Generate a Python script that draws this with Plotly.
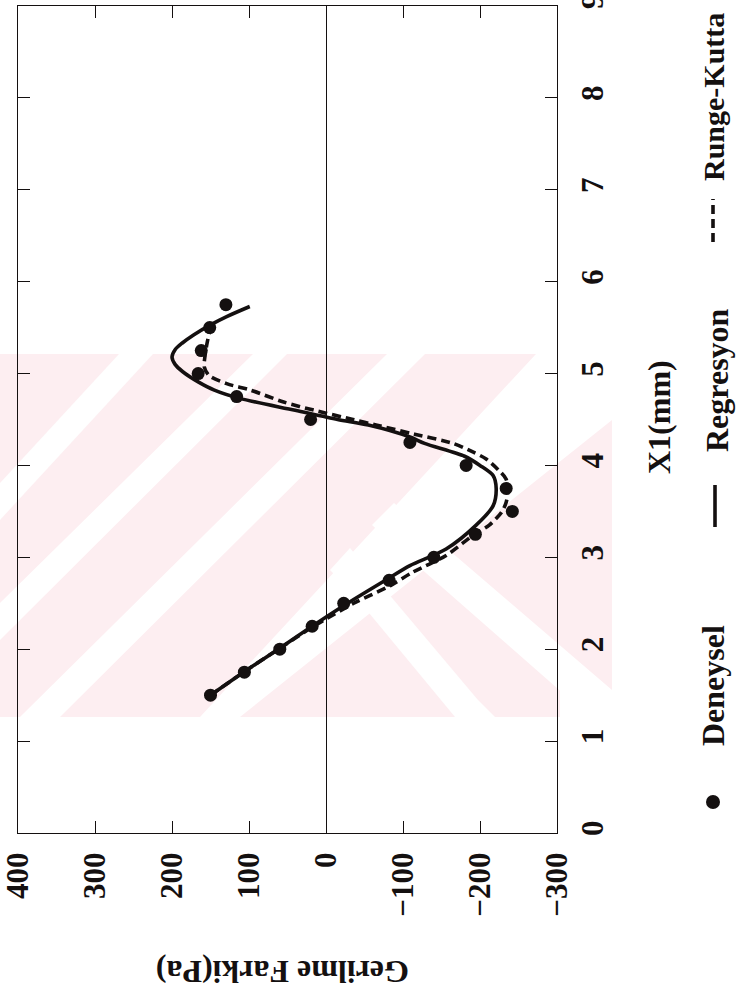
import plotly.graph_objects as go

# Measured stress difference (Deneysel) against X1 position
x1_deneysel = [1.5, 1.75, 2.0, 2.25, 2.5, 2.75, 3.0, 3.25, 3.5, 3.75,
               4.0, 4.25, 4.5, 4.75, 5.0, 5.25, 5.5, 5.75]
gerilme_deneysel = [150, 106, 60, 18, -23, -82, -140, -194, -242, -234,
                    -182, -109, 20, 116, 166, 162, 151, 130]

# Regression curve
x1_regresyon = [1.5, 1.75, 2.0, 2.25, 2.5, 2.76, 2.91, 3.09, 3.35, 3.56,
                3.75, 3.89, 4.0, 4.1, 4.24, 4.31, 4.44, 4.5, 4.6, 4.73,
                4.82, 4.91, 5.02, 5.1, 5.18, 5.26, 5.33, 5.42, 5.53, 5.62, 5.73]
gerilme_regresyon = [150, 107, 62, 18, -28, -79, -109, -156, -195, -217,
                     -221, -217, -200, -180, -128, -109, -55, -15, 40, 112,
                     145, 166, 186, 196, 200, 196, 187, 172, 150, 129, 99]

# Runge-Kutta solution
x1_runge = [1.5, 1.75, 2.0, 2.25, 2.5, 2.69, 2.84, 3.02, 3.24, 3.35, 3.49,
            3.6, 3.71, 3.85, 3.95, 4.07, 4.15, 4.24, 4.34, 4.44, 4.5, 4.6,
            4.69, 4.82, 4.89, 4.98, 5.07, 5.2, 5.35, 5.49]
gerilme_runge = [150, 107, 62, 16, -36, -83, -113, -156, -191, -212, -228,
                 -234, -236, -234, -224, -208, -190, -165, -115, -65, -35, 15,
                 55, 98, 129, 152, 158, 157, 154, 150]

gerilme_ticks = [400, 300, 200, 100, 0, -100, -200, -300]
x1_ticks = list(range(0, 10))

W, H = 750, 996
L, R, T, B = 18, 557, 6, 833


def px(xp):
    return (xp - L) / (R - L)


def py(yp):
    return (B - yp) / (B - T)


FONT = "Liberation Serif"
PINK = "#fdeef1"
INK = "#141010"

fig = go.Figure()

fig.add_trace(go.Scatter(
    x=gerilme_runge, y=x1_runge, mode="lines", name="Runge-Kutta",
    line=dict(color=INK, width=3.6, dash="9px,5px", shape="spline", smoothing=0.8),
))
fig.add_trace(go.Scatter(
    x=gerilme_regresyon, y=x1_regresyon, mode="lines", name="Regresyon",
    line=dict(color=INK, width=3.6, shape="spline", smoothing=0.8),
))
fig.add_trace(go.Scatter(
    x=gerilme_deneysel, y=x1_deneysel, mode="markers", name="Deneysel",
    marker=dict(color=INK, size=13),
))

shapes = []
# faint background emblem: pink field with white diagonal bands
shapes.append(dict(type="rect", xref="paper", yref="paper", layer="below",
                   x0=px(0), x1=px(612), y0=py(717), y1=py(354),
                   fillcolor=PINK, line=dict(width=0)))


def band(pts):
    path = "M " + " L ".join(f"{px(a)},{py(b)}" for a, b in pts) + " Z"
    shapes.append(dict(type="path", xref="paper", yref="paper", layer="below",
                       path=path, fillcolor="white", line=dict(width=0)))


# "/" bands
band([(119, 354), (153, 354), (0, 520), (0, 483)])
band([(253, 354), (287, 354), (0, 640), (0, 603)])
band([(387, 354), (425, 354), (60, 717), (20, 717)])
band([(536, 354), (612, 354), (612, 420), (240, 717), (200, 717)])
# "\" bands forming chevrons on the right
band([(394, 503), (612, 690), (612, 717), (590, 717), (394, 545), (372, 525)])
band([(350, 548), (478, 700), (495, 717), (455, 717), (350, 590), (330, 570)])
band([(560, 667), (612, 717), (560, 717)])

# legend symbols
shapes.append(dict(type="circle", xref="paper", yref="paper",
                   x0=px(706), x1=px(720), y0=py(809), y1=py(795),
                   fillcolor=INK, line=dict(width=0)))
shapes.append(dict(type="line", xref="paper", yref="paper",
                   x0=px(715), x1=px(715), y0=py(527), y1=py(485),
                   line=dict(color=INK, width=3.6)))
shapes.append(dict(type="line", xref="paper", yref="paper",
                   x0=px(713), x1=px(713), y0=py(242), y1=py(199),
                   line=dict(color=INK, width=3.6, dash="9px,5px")))

tfont = dict(family=FONT, size=32, color=INK, weight="bold")
annotations = []


def label(text, xp, yp, angle, size=32):
    f = dict(tfont, size=size)
    annotations.append(dict(text=text, xref="paper", yref="paper",
                            x=px(xp), y=py(yp), showarrow=False,
                            textangle=angle, font=f,
                            xanchor="center", yanchor="middle"))


label("Deneysel", 713, 686, -90)
label("Regresyon", 717, 380, -90)
label("Runge-Kutta", 713, 97, -90, size=30)
label("X1(mm)", 659, 417, -90)
label("Gerilme Farki(Pa)", 283, 972, 180)

fig.update_layout(
    width=W, height=H, autosize=False,
    margin=dict(l=L, r=W - R, t=T, b=H - B, pad=0, autoexpand=False),
    paper_bgcolor="white", plot_bgcolor="rgba(0,0,0,0)",
    showlegend=False, shapes=shapes, annotations=annotations,
)
axis_font = dict(family=FONT, size=31, color=INK, weight="bold")
fig.update_xaxes(
    range=[400, -300], tickvals=gerilme_ticks, tickangle=-90,
    ticks="inside", ticklen=12, tickwidth=1.2, tickcolor=INK,
    showline=True, linecolor=INK, linewidth=1.2, mirror="ticks",
    showgrid=False, zeroline=True, zerolinecolor=INK, zerolinewidth=1.2,
    tickfont=axis_font, ticklabelstandoff=6, ticklabeloverflow="allow",
    automargin=False,
)
fig.update_yaxes(
    range=[0, 9], tickvals=x1_ticks, tickangle=-90, side="right",
    ticks="inside", ticklen=12, tickwidth=1.2, tickcolor=INK,
    showline=True, linecolor=INK, linewidth=1.2, mirror="ticks",
    showgrid=False, zeroline=False,
    tickfont=axis_font, ticklabelstandoff=8, ticklabeloverflow="allow",
    automargin=False,
)

fig.write_html("out.html")
